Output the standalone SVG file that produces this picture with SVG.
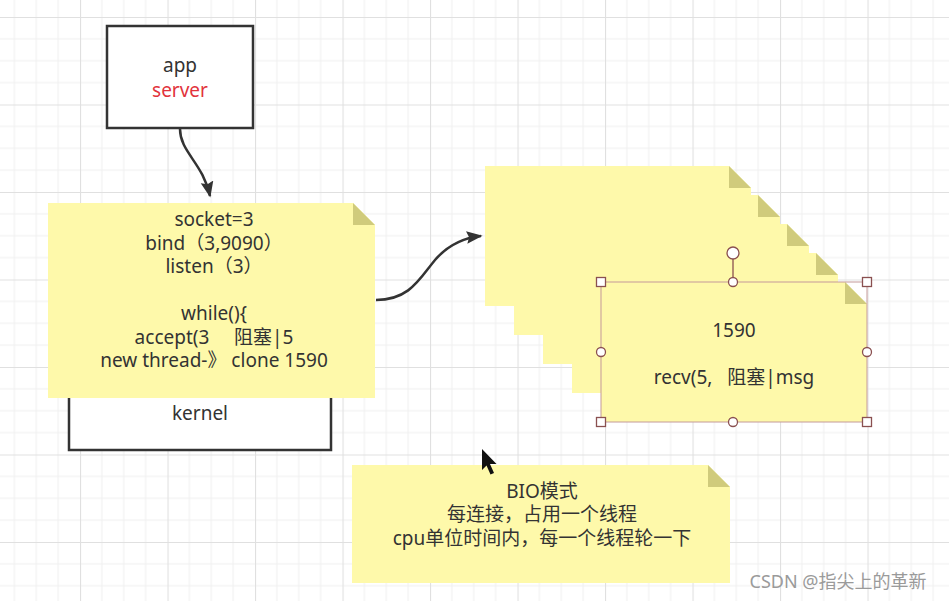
<svg xmlns="http://www.w3.org/2000/svg" width="949" height="601" viewBox="0 0 949 601">
<style>
.t{font-family:"Noto Sans","Noto Sans CJK SC",sans-serif;font-size:19px;fill:#333;text-anchor:middle}
.box{fill:#fff;stroke:#333;stroke-width:2.5}
.note{fill:#fef9aa}
.fold{fill:#d0cb7c}
.con{fill:none;stroke:#333;stroke-width:2.5}
.h{fill:#fff;stroke:#8a5050;stroke-width:1.3}
</style>
<defs>
<pattern id="grid" patternUnits="userSpaceOnUse" x="80" y="17" width="87.5" height="87.5">
<path d="M21.875,0V87.5M43.75,0V87.5M65.625,0V87.5M0,21.875H87.5M0,43.75H87.5M0,65.625H87.5" stroke="#efefef" stroke-width="1" fill="none"/>
<path d="M0.5,0V87.5M0,0.5H87.5" stroke="#e0e0e0" stroke-width="1.2" fill="none"/>
</pattern>
<marker id="arr" viewBox="0 0 10 10" refX="9" refY="5" markerWidth="6.4" markerHeight="6.4" orient="auto" markerUnits="strokeWidth">
<path d="M0,1L10,5L0,9L1.5,5Z" fill="#333"/>
</marker>
</defs>
<rect width="949" height="601" fill="#fff"/>
<rect width="949" height="601" fill="url(#grid)"/>

<g id="app">
<rect class="box" x="107" y="26" width="146" height="102"/>
<text class="t" x="180" y="72">app</text>
<text class="t" x="180" y="97" style="fill:#e2333c">server</text>
</g>

<g id="kernel">
<rect class="box" x="69" y="340" width="262" height="110"/>
<text class="t" x="200" y="420">kernel</text>
</g>

<g id="socket-note">
<path class="note" d="M48,203H353L375,225V398H48Z"/>
<path class="fold" d="M353,203V225H375Z"/>
<text class="t" x="214" y="226">socket=3</text>
<text class="t" x="214" y="249.5">bind（3,9090）</text>
<text class="t" x="214" y="273">listen（3）</text>
<text class="t" x="214" y="320">while(){</text>
<text class="t" x="214" y="343.5" xml:space="preserve">accept(3     阻塞|5</text>
<text class="t" x="214" y="367">new thread-》 clone 1590</text>
</g>

<g id="thread-stack">
<path class="note" d="M485,166H729L751,188V306H485Z"/><path class="fold" d="M729,166V188H751Z"/>
<path class="note" d="M514,195H758L780,217V335H514Z"/><path class="fold" d="M758,195V217H780Z"/>
<path class="note" d="M543,224H787L809,246V364H543Z"/><path class="fold" d="M787,224V246H809Z"/>
<path class="note" d="M572,253H816L838,275V393H572Z"/><path class="fold" d="M816,253V275H838Z"/>
</g>

<g id="thread-1590">
<path class="note" d="M601,282H845L867,304V422H601Z"/>
<path class="fold" d="M845,282V304H867Z"/>
<text class="t" x="734" y="337">1590</text>
<text class="t" x="734" y="384" xml:space="preserve">recv(5,   阻塞|msg</text>
<rect x="601" y="282" width="266" height="140" fill="none" stroke="#c49a9a" stroke-width="1"/>
<line x1="733" y1="259" x2="733" y2="282" stroke="#8a5050" stroke-width="1.3"/>
<circle class="h" cx="733" cy="253" r="6"/>
<rect class="h" x="596.5" y="277.5" width="9" height="9"/>
<rect class="h" x="862.5" y="277.5" width="9" height="9"/>
<rect class="h" x="596.5" y="417.5" width="9" height="9"/>
<rect class="h" x="862.5" y="417.5" width="9" height="9"/>
<circle class="h" cx="733" cy="282" r="4.5"/>
<circle class="h" cx="733" cy="422" r="4.5"/>
<circle class="h" cx="601" cy="352" r="4.5"/>
<circle class="h" cx="867" cy="352" r="4.5"/>
</g>

<g id="bio-note">
<path class="note" d="M352,465H708L730,487V583H352Z"/>
<path class="fold" d="M708,465V487H730Z"/>
<text class="t" x="542" y="497.5">BIO模式</text>
<text class="t" x="542" y="521">每连接，占用一个线程</text>
<text class="t" x="542" y="544.5">cpu单位时间内，每一个线程轮一下</text>
</g>

<g id="connectors">
<path class="con" d="M180,129C180,152 203,163 210,196" marker-end="url(#arr)"/>
<path class="con" d="M376,300C410,300 420,278 435,260C448,245 462,238 481,236" marker-end="url(#arr)"/>
</g>

<path d="M482,449V470L486.5,465.5L490.5,474.5L494,473L490,464H496.5Z" fill="#111"/>
<text x="838" y="588" style="font-family:'Noto Sans','Noto Sans CJK SC',sans-serif;font-size:18px;fill:#9a9a9a;text-anchor:middle">CSDN @指尖上的革新</text>
</svg>
